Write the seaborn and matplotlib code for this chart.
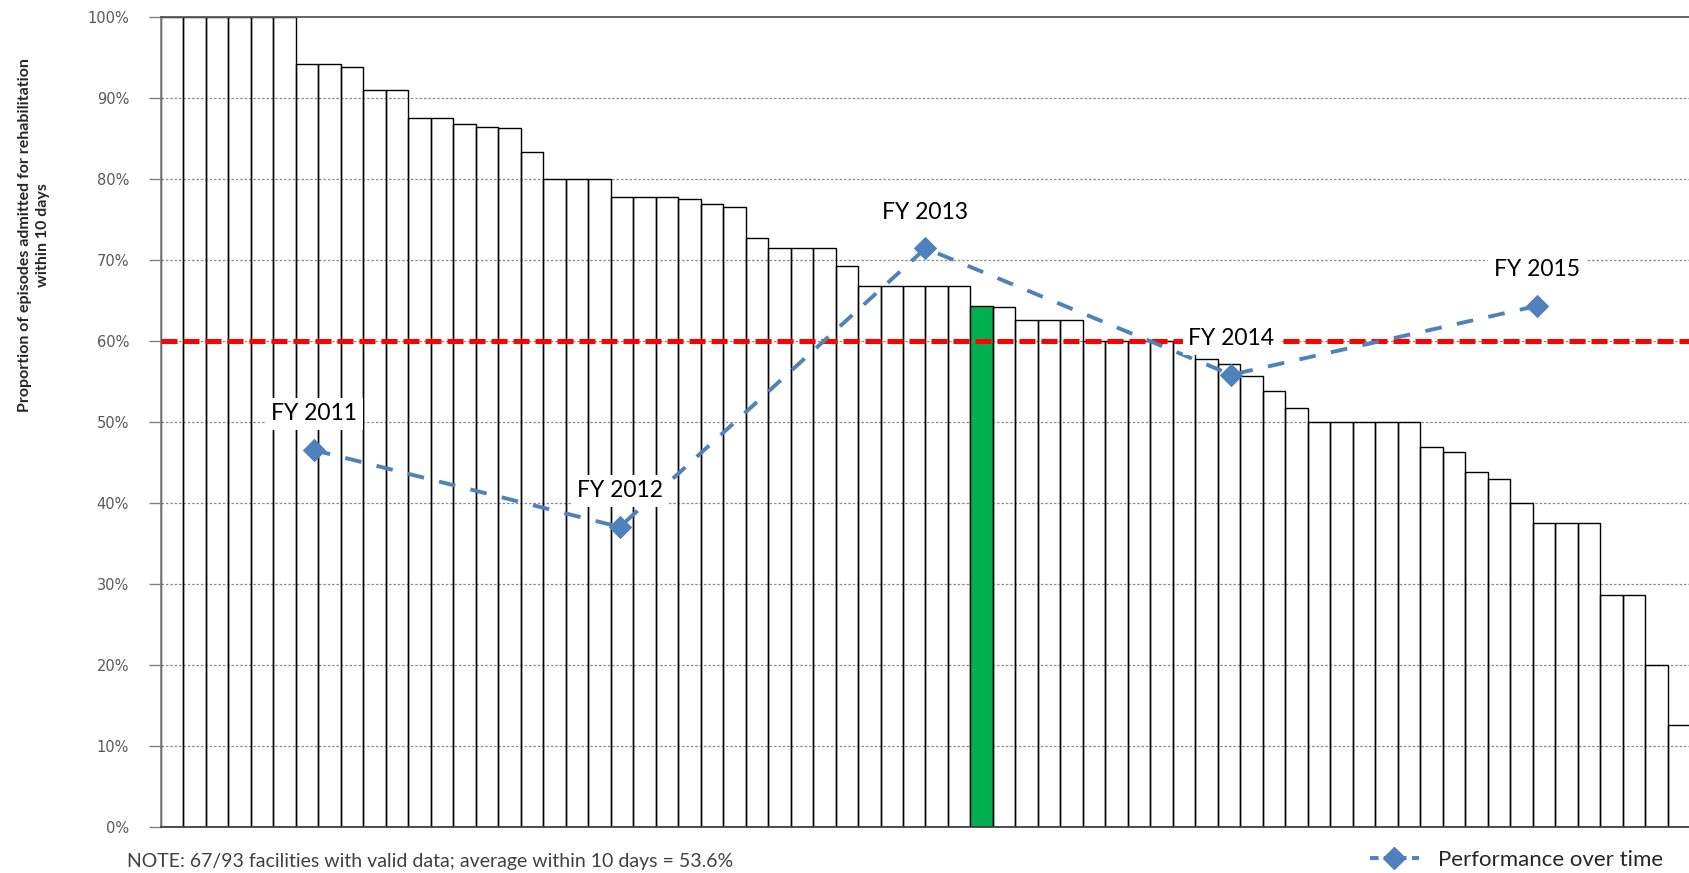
import matplotlib
matplotlib.use('Agg')
import matplotlib.pyplot as plt
from matplotlib.ticker import FuncFormatter
from matplotlib.lines import Line2D
import seaborn as sns

# ------------------------------------------------------------
# Datos
# ------------------------------------------------------------
facility_pct = [
    100, 100, 100, 100, 100, 100,
    94.1, 94.1, 93.8, 90.9, 90.9, 87.5, 87.5, 86.7, 86.4, 86.2, 83.3,
    80.0, 80.0, 80.0, 77.8, 77.8, 77.8, 77.5, 76.9, 76.5, 72.7,
    71.4, 71.4, 71.4, 69.2, 66.7, 66.7, 66.7, 66.7, 66.7,
    64.3, 64.1, 62.5, 62.5, 62.5, 60.0, 60.0, 60.0, 60.0, 60.0,
    57.7, 57.1, 55.6, 53.8, 51.7, 50.0, 50.0, 50.0, 50.0, 50.0,
    46.9, 46.2, 43.8, 42.9, 40.0, 37.5, 37.5, 37.5, 28.6, 28.6, 20.0, 12.5,
]
facility_ids = [f'F{i + 1:02d}' for i in range(len(facility_pct))]
highlight_index = 36  # facility in green

fiscal_years = ['FY 2011', 'FY 2012', 'FY 2013', 'FY 2014', 'FY 2015']
performance_pct = [46.5, 37.0, 71.4, 55.8, 64.3]

target_pct = 60

NOTE_TEXT = 'NOTE: 67/93 facilities with valid data; average within 10 days = 53.6%'

# ------------------------------------------------------------
# Estilo
# ------------------------------------------------------------
sns.set_theme(style='white')
plt.rcParams['font.family'] = ['DejaVu Sans']

BLUE = '#4F81BD'
GREEN = '#00B050'
RED = '#FF0000'
LABEL_FONT = ['Lato', 'DejaVu Sans']

W, H = 1690, 873
fig = plt.figure(figsize=(W / 100, H / 100), dpi=100)
ax = fig.add_axes([161 / W, 1 - 826.7 / H, (1690 - 161) / W, (826.7 - 16.7) / H])

# barras
sns.barplot(x=facility_ids, y=facility_pct, ax=ax, width=1.0,
            color='white', edgecolor='black', linewidth=1.0, saturation=1)
for i, patch in enumerate(ax.patches):
    if i == highlight_index:
        patch.set_facecolor(GREEN)
    else:
        patch.set_facecolor('none')
    patch.set_zorder(2)

ax.set_xlim(-0.5, len(facility_pct) - 0.5)
ax.set_ylim(0, 100)
ax.set_yticks(range(0, 101, 10))
ax.yaxis.set_major_formatter(FuncFormatter(lambda v, _: f'{v:.0f}%'))
ax.set_xticks([])
ax.set_xlabel('')
ax.set_ylabel('')
ax.tick_params(axis='y', left=True, length=9, width=1, color='#808080',
               pad=14, labelsize=10.5, labelcolor='#595959')

# gridlines
for v in range(10, 100, 10):
    ax.axhline(v, color='#8c8c8c', lw=0.9, ls=(0, (2, 1.5)), zorder=1)

# linea objetivo
ax.axhline(target_pct, color=RED, lw=3.6, ls=(0, (3.2, 1.2)), zorder=4)

ax.spines['right'].set_visible(False)
ax.spines['top'].set_color('#595959')
ax.spines['top'].set_linewidth(1.3)
ax.spines['left'].set_color('#808080')
ax.spines['bottom'].set_color('#404040')
ax.spines['bottom'].set_linewidth(1.3)

# linea de desempeno en eje secundario (5 categorias)
ax2 = ax.twiny()
ax2.set_xlim(-0.5, len(fiscal_years) - 0.5)
sns.lineplot(x=list(range(len(fiscal_years))), y=performance_pct, ax=ax2,
             color=BLUE, lw=2.8, linestyle=(0, (4.3, 4.0)), marker='D',
             markersize=11, markeredgecolor=BLUE, zorder=5)
ax2.set_ylim(0, 100)
ax2.set_xticks([])
ax2.set_xlabel('')
for side in ax2.spines:
    ax2.spines[side].set_visible(False)

for i, (fy, val) in enumerate(zip(fiscal_years, performance_pct)):
    ax2.annotate(fy, (i, val), xytext=(0, 26), textcoords='offset points',
                 ha='center', va='center', fontsize=16.5, family=LABEL_FONT,
                 color='black', zorder=6,
                 bbox=dict(boxstyle='square,pad=0.25', fc='white', ec='none'))

# etiqueta eje Y
fig.text(34 / W, 1 - 235 / H,
         'Proportion of episodes admitted for rehabilitation\nwithin 10 days',
         rotation=90, ha='center', va='center', multialignment='center',
         fontsize=11.5, fontweight='bold', color='#262626',
         family=LABEL_FONT, linespacing=1.45)

# leyenda
handle = Line2D([], [], color=BLUE, lw=2.8, linestyle=(0, (2.2, 1.4)),
                marker='D', markersize=11)
fig.legend([handle], ['Performance over time'], loc='center left',
           bbox_to_anchor=(1370 / W, 1 - 860 / H), frameon=False,
           borderaxespad=0, borderpad=0,
           handlelength=2.2, handletextpad=0.85,
           prop={'family': LABEL_FONT, 'size': 16})

# nota inferior
fig.text(127 / W, 1 - 862 / H, NOTE_TEXT, ha='left', va='center',
         fontsize=14, color='#404040', family=LABEL_FONT)

fig.savefig('out.png', dpi=100)
